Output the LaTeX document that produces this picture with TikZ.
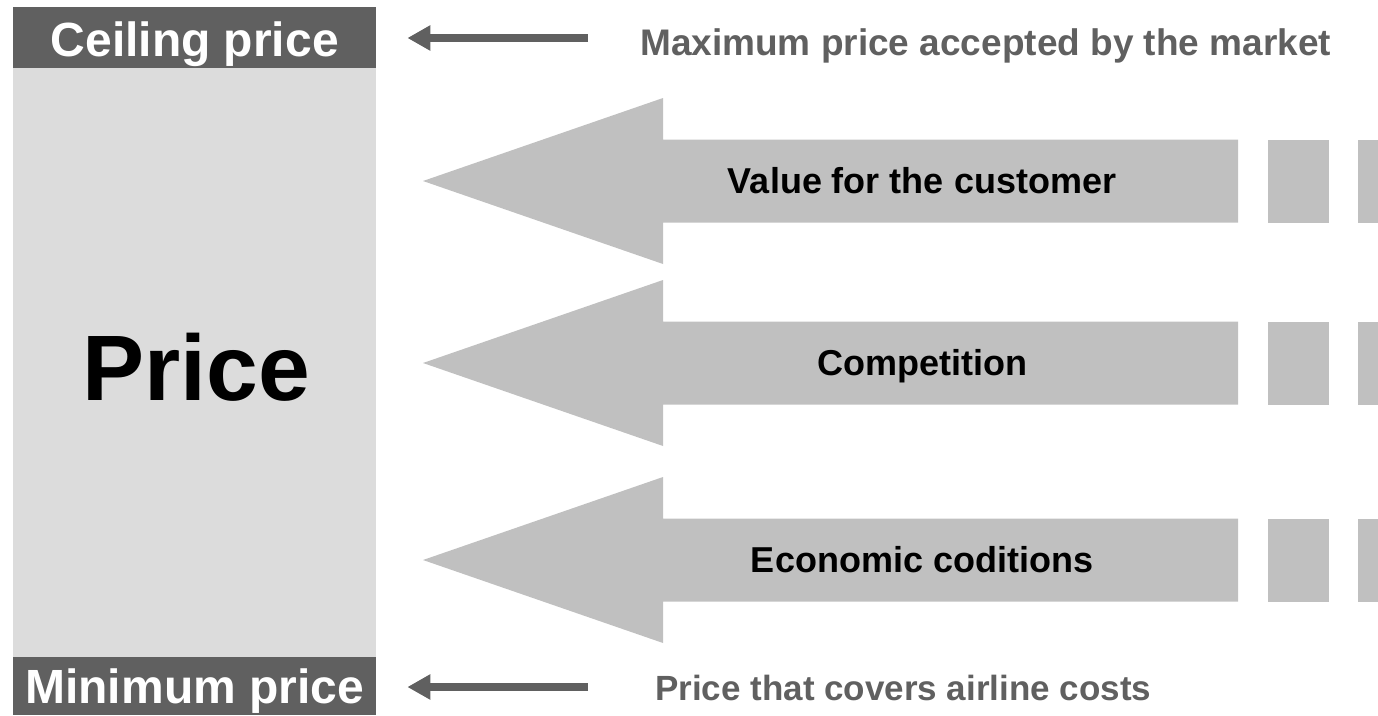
\documentclass[tikz,border=0pt]{standalone}
\usepackage{fontspec}
\setmainfont{Liberation Sans}
\usetikzlibrary{arrows.meta}
\definecolor{darkbox}{HTML}{606060}
\definecolor{lightbox}{HTML}{DCDCDC}
\definecolor{bigarrow}{HTML}{C0C0C0}
\tikzset{
	pricebox/.style={fill=darkbox, text=white, anchor=north west, inner sep=0pt, text depth=0pt,
		minimum width=363pt, font=\fontsize{48}{50}\selectfont\bfseries},
	note/.style={text=darkbox, anchor=base west, inner sep=0pt, font=\fontsize{37}{40}\selectfont\bfseries},
	factor/.style={anchor=base, inner sep=0pt, font=\fontsize{36}{40}\selectfont\bfseries},
	pointer/.style={darkbox, line width=8pt, -{Triangle[length=23pt,width=24pt]}},
}
\begin{document}
\begin{tikzpicture}[x=1pt,y=-1pt]
		\useasboundingbox (0,0) rectangle (1378,715);
		\fill[lightbox] (13,68) rectangle (376,657);
		\node[pricebox, minimum height=61pt, text height=37pt] (ceiling) at (13,7) {Ceiling price};
		\node[pricebox, minimum height=58pt] (minimum) at (13,657) {Minimum price};
		\node[anchor=base, inner sep=0pt, font=\fontsize{93}{96}\selectfont\bfseries] (price) at (196,400) {Price};
		\node[note] (maxtext) at (640,55) {Maximum price accepted by the market};
		\node[note, font=\fontsize{35}{40}\selectfont\bfseries] (mintext) at (655,700) {Price that covers airline costs};
		\coordinate (maxstart) at (588,38);
		\coordinate (minstart) at (588,687);
		\draw[pointer, shorten >=31pt] (maxstart) -- (maxstart -| ceiling.east);
		\draw[pointer, shorten >=31pt] (minstart) -- (minstart -| minimum.east);
		% the three influences
		\foreach \y/\name/\label in {181/value/Value for the customer, 363/competition/Competition, 560/economy/Economic coditions} {
			\fill[bigarrow] (423,\y) -- (663,\y-83) -- (663,\y-41.5) -- (1238,\y-41.5)
				-- (1238,\y+41.5) -- (663,\y+41.5) -- (663,\y+83) -- cycle;
			\fill[bigarrow] (1268,\y-41.5) rectangle (1329,\y+41.5);
			\fill[bigarrow] (1358,\y-41.5) rectangle (1378,\y+41.5);
			\node[factor] (\name) at (922,\y+12) {\label};
		}
	\end{tikzpicture}
\end{document}
